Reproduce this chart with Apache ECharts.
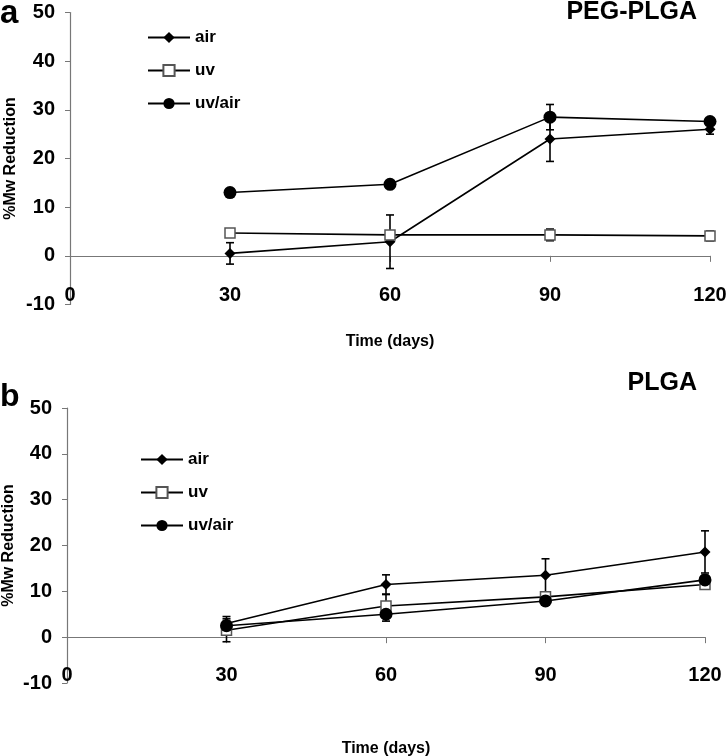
<!DOCTYPE html>
<html><head><meta charset="utf-8">
<script src="https://cdn.jsdelivr.net/npm/echarts@6/dist/echarts.min.js"></script>
<style>html,body{margin:0;padding:0;background:#fff}#c{width:728px;height:756px}</style>
</head><body><div id="c"></div>
<script>
var days = [30, 60, 90, 120];
var xTicks = [0, 30, 60, 90, 120];
var yTicks = [-10, 0, 10, 20, 30, 40, 50];
var seriesNames = ['air', 'uv', 'uv/air'];
// Panel a: PEG-PLGA
var aAir = [0.5, 2.9, 24.0, 26.0];
var aAirErr = [2.2, 5.5, 4.6, 1.0];
var aUv = [4.7, 4.3, 4.3, 4.1];
var aUvErr = [0.5, 0.5, 1.2, 1.0];
var aUvAir = [13.0, 14.7, 28.5, 27.6];
var aUvAirErr = [0.8, 0.5, 2.6, 0.5];
// Panel b: PLGA
var bAir = [3.0, 11.5, 13.5, 18.6];
var bAirErr = [1.5, 2.1, 3.6, 4.6];
var bUv = [1.5, 6.8, 8.8, 11.5];
var bUvErr = [2.5, 2.5, 1.0, 1.0];
var bUvAir = [2.5, 5.0, 7.9, 12.5];
var bUvAirErr = [1.0, 1.5, 0.8, 1.0];

var FONT = 'Liberation Sans, Arial, sans-serif';
function pts(v) { return days.map(function (d, i) { return [d, v[i]]; }); }
function errPts(v, e) { return days.map(function (d, i) { return [d, v[i] - e[i], v[i] + e[i]]; }); }

function errSeries(v, e, idx) {
  return {
    type: 'custom', xAxisIndex: idx, yAxisIndex: idx, z: 1, silent: true,
    data: errPts(v, e),
    renderItem: function (params, api) {
      var lo = api.coord([api.value(0), api.value(1)]);
      var hi = api.coord([api.value(0), api.value(2)]);
      var w = 4;
      var st = { stroke: '#000', lineWidth: 1.6 };
      return { type: 'group', children: [
        { type: 'line', shape: { x1: lo[0], y1: lo[1], x2: hi[0], y2: hi[1] }, style: st },
        { type: 'line', shape: { x1: lo[0] - w, y1: lo[1], x2: lo[0] + w, y2: lo[1] }, style: st },
        { type: 'line', shape: { x1: hi[0] - w, y1: hi[1], x2: hi[0] + w, y2: hi[1] }, style: st }
      ] };
    }
  };
}
function lineSeries(name, v, idx) {
  var s = {
    name: name, type: 'line', xAxisIndex: idx, yAxisIndex: idx, z: 3,
    data: pts(v), lineStyle: { color: '#000', width: 1.6 },
    color: '#000'
  };
  if (name === 'air') { s.symbol = 'diamond'; s.symbolSize = 11; s.itemStyle = { color: '#000' }; }
  if (name === 'uv') { s.symbol = 'rect'; s.symbolSize = 10; s.itemStyle = { color: '#fff', borderColor: '#555', borderWidth: 1.5 }; }
  if (name === 'uv/air') { s.symbol = 'circle'; s.symbolSize = 13; s.itemStyle = { color: '#000' }; }
  return s;
}
function xAx(idx, margin, gap) {
  return {
    type: 'value', gridIndex: idx, min: 0, max: 120, interval: 30,
    axisLine: { onZero: true, lineStyle: { color: '#777', width: 1.2 } },
    axisTick: { show: true, inside: false, length: 6, lineStyle: { color: '#777' } },
    axisLabel: { margin: margin, color: '#000', fontSize: 20, fontWeight: 'bold', fontFamily: FONT,
      alignMinLabel: 'center', alignMaxLabel: 'center', hideOverlap: false,
      formatter: function (v) { return xTicks.indexOf(v) >= 0 ? String(v) : ''; } },
    splitLine: { show: false },
    name: 'Time (days)', nameLocation: 'middle', nameGap: gap, nameMoveOverlap: false,
    nameTextStyle: { color: '#000', fontSize: 16, fontWeight: 'bold', fontFamily: FONT }
  };
}
function yAx(idx, gap) {
  return {
    type: 'value', gridIndex: idx, min: -10, max: 50, interval: 10,
    axisLine: { show: true, lineStyle: { color: '#777', width: 1.2 } },
    axisTick: { show: true, inside: false, length: 5, lineStyle: { color: '#777' } },
    axisLabel: { margin: 15, color: '#000', fontSize: 20, fontWeight: 'bold', fontFamily: FONT,
      formatter: function (v) { return yTicks.indexOf(v) >= 0 ? String(v) : ''; } },
    splitLine: { show: false },
    name: '%Mw Reduction', nameLocation: 'middle', nameGap: gap, nameRotate: 90, nameMoveOverlap: false,
    nameTextStyle: { color: '#000', fontSize: 16, fontWeight: 'bold', fontFamily: FONT }
  };
}
function legend(left, top) {
  return {
    data: seriesNames, orient: 'vertical', left: left, top: top,
    itemWidth: 42, itemHeight: 14, itemGap: 16, padding: 0,
    textStyle: { color: '#000', fontSize: 17, fontWeight: 'bold', fontFamily: FONT }
  };
}
var chart = echarts.init(document.getElementById('c'));
chart.setOption({
  animation: false,
  backgroundColor: '#fff',
  title: [
    { text: 'a', left: 0, top: -3, padding: 0, textStyle: { fontSize: 33, fontWeight: 'bold', color: '#000', fontFamily: FONT } },
    { text: 'PEG-PLGA', right: 31, top: 0, padding: 0, textStyle: { fontSize: 25, fontWeight: 'bold', color: '#000', fontFamily: FONT } },
    { text: 'b', left: 0, top: 381, padding: 0, textStyle: { fontSize: 32, fontWeight: 'bold', color: '#000', fontFamily: FONT } },
    { text: 'PLGA', right: 31, top: 371, padding: 0, textStyle: { fontSize: 25, fontWeight: 'bold', color: '#000', fontFamily: FONT } }
  ],
  legend: [legend(147, 29), legend(140, 451)],
  grid: [
    { left: 70, right: 18, top: 12.5, height: 292, outerBoundsMode: 'none', containLabel: false },
    { left: 67, right: 23, top: 408, height: 275, outerBoundsMode: 'none', containLabel: false }
  ],
  xAxis: [xAx(0, -19, 29), xAx(1, -18, 58)],
  yAxis: [yAx(0, 51), yAx(1, 50)],
  series: [
    errSeries(aAir, aAirErr, 0), errSeries(aUv, aUvErr, 0), errSeries(aUvAir, aUvAirErr, 0),
    lineSeries('air', aAir, 0), lineSeries('uv', aUv, 0), lineSeries('uv/air', aUvAir, 0),
    errSeries(bAir, bAirErr, 1), errSeries(bUv, bUvErr, 1), errSeries(bUvAir, bUvAirErr, 1),
    lineSeries('air', bAir, 1), lineSeries('uv', bUv, 1), lineSeries('uv/air', bUvAir, 1)
  ]
});
</script></body></html>
